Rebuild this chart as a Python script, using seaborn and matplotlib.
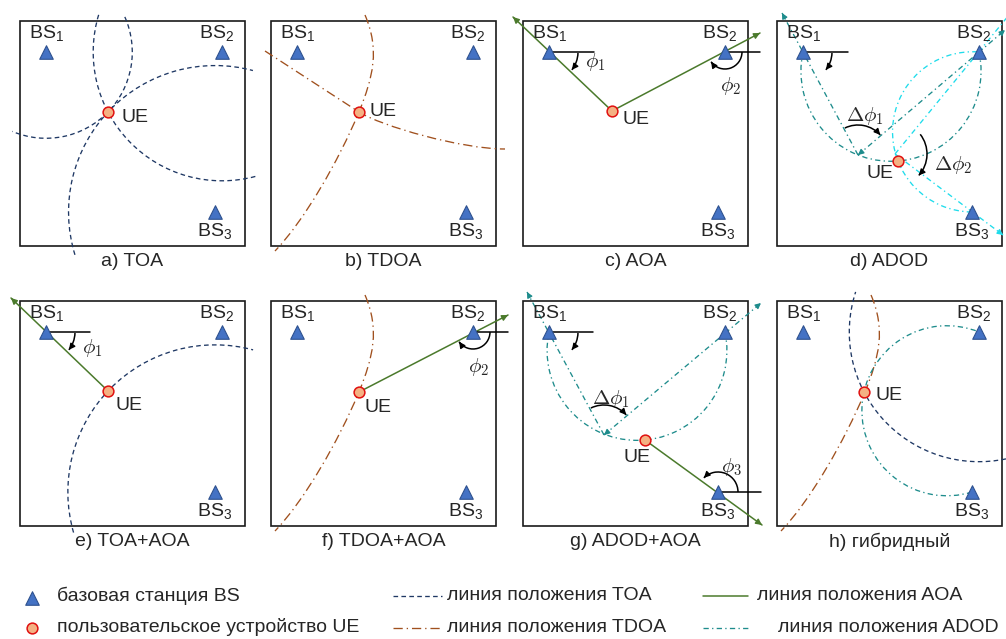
import matplotlib.pyplot as plt
import numpy as np
import pandas as pd
import seaborn as sns
from matplotlib.patches import Arc, PathPatch, Rectangle
from matplotlib.path import Path

# ---- layout of the 8 panels (pixel coords, y pointing down) ----
PANEL_LEFT = [20, 271, 523, 777]
PANEL_TOP = [21, 301]
BOX = 225
PANEL_NAMES = ["a) TOA", "b) TDOA", "c) AOA", "d) ADOD",
               "e) TOA+AOA", "f) TDOA+AOA", "g) ADOD+AOA", "h) гибридный"]

# base stations (relative to a panel box)
BS_X = [26, 202, 195]
BS_Y = [31, 31, 191]
BS_LABEL_X = [27, 197, 195]
BS_LABEL_Y = [12, 12, 210]

# user equipment per panel
UE_X = [88, 88, 89, 121, 88, 88, 122, 87]
UE_Y = [91, 91, 90, 140, 90, 91, 139, 91]
UE_LABEL_X = [102, 99, 100, 90, 96, 94, 101, 99]
UE_LABEL_Y = [96, 90, 99, 153, 105, 107, 156, 95]

# TOA circles: panel, base station, start / end angle (deg)
TOA_PANEL = [0, 0, 0, 4, 7]
TOA_BS = [0, 1, 2, 2, 1]
TOA_T0 = [-24, 75, 163, 164, 78]
TOA_T1 = [113, 197, 285, 285, 198]

# TDOA curves (bezier control points)
TDOA1_X = [-6, 88, 110, 190, 234]
TDOA1_Y = [30, 91, 105, 128, 128]
TDOA2_X = [94, 109, 102, 88, 67, 33, 4]
TDOA2_Y = [-6, 29, 56, 91, 141, 200, 230]
TDOA1_PANELS = [1]
TDOA2_PANELS = [1, 5, 7]

# AOA bearing lines from UE: panel, end point
AOA_PANEL = [2, 2, 4, 5, 6]
AOA_END_X = [-10, 237, -9, 237, 239]
AOA_END_Y = [-4, 12, -3, 14, 224]

# horizontal reference lines at base stations
REF_PANEL = [2, 2, 3, 4, 5, 6, 6]
REF_BS = [0, 1, 0, 0, 1, 0, 2]
REF_END = [71, 237, 71, 70, 237, 70, 238]

# ADOD circles through two base stations and UE
ADOD_PANEL = [3, 3, 6, 7]
ADOD_BS_A = [0, 1, 0, 1]
ADOD_BS_B = [1, 2, 1, 2]
ADOD_KIND = ["teal", "cyan", "teal", "teal"]

# ADOD angle-difference lines: panel, start, end, colour
V_PANEL = [3, 3, 3, 3, 6, 6]
V_X0 = [81, 81, 118, 118, 81, 81]
V_Y0 = [134, 134, 133, 133, 134, 134]
V_X1 = [5, 228, 232, 226, 4, 238]
V_Y1 = [-8, 9, -6, 214, -9, 2]
V_KIND = ["teal", "teal", "cyan", "cyan", "teal", "teal"]

# curved angle arrows: panel, centre, radius, start / end angle
ANG_PANEL = [2, 2, 3, 4, 5, 6, 6, 3, 6, 3]
ANG_CX = [26, 202, 26, 26, 202, 26, 195, 81, 81, 118]
ANG_CY = [31, 31, 31, 31, 31, 31, 191, 134, 134, 133]
ANG_R = [29, 17, 29, 29, 17, 29, 20, 30, 30, 32]
ANG_T0 = [2, 0, 2, 2, 0, 2, 0, 244, 244, -38]
ANG_T1 = [38, 145, 38, 38, 145, 38, -135, 318, 318, 42]

# angle labels
PHI_PANEL = [2, 2, 4, 5, 6, 3, 6, 3]
PHI_X = [72, 208, 72, 208, 209, 88, 88, 176]
PHI_Y = [41, 65, 47, 66, 166, 95, 98, 144]
PHI_TEXT = [r"$\phi_1$", r"$\phi_2$", r"$\phi_1$", r"$\phi_2$", r"$\phi_3$",
            r"$\Delta\phi_1$", r"$\Delta\phi_1$", r"$\Delta\phi_2$"]

COLORS = {
    "toa": "#1F3864",
    "tdoa": "#A0501E",
    "aoa": "#4B7A2C",
    "teal": "#1E8C8C",
    "cyan": "#1FDCEB",
    "bs": "#4472C4",
    "bs_edge": "#2F528F",
    "ue": "#F4B183",
    "ue_edge": "#E01010",
}
LS_TOA = (0, (3.5, 2.5))
LS_TDOA = (0, (7, 3, 1, 3))
LS_ADOD = (0, (4, 2.5, 1, 2.5))
LW = 0.95

sns.set_theme(style="white")
plt.rcParams["font.family"] = ["Liberation Sans", "DejaVu Sans"]
plt.rcParams["mathtext.fontset"] = "cm"

fig = plt.figure(figsize=(10.06, 6.39), dpi=100)
ax = fig.add_axes([0, 0, 1, 1])


def origin(panel):
    row, col = divmod(panel, 4)
    return PANEL_LEFT[col], PANEL_TOP[row]


def to_abs(panel, x, y):
    ox, oy = origin(panel)
    return ox + np.asarray(x, float), oy + np.asarray(y, float)


def head(x0, y0, x1, y1, color, size=8):
    d = np.hypot(x1 - x0, y1 - y0)
    ux, uy = (x1 - x0) / d, (y1 - y0) / d
    ax.annotate("", xy=(x1, y1), xytext=(x1 - ux * 5, y1 - uy * 5),
                arrowprops=dict(arrowstyle="-|>", color=color, lw=LW,
                                mutation_scale=size, shrinkA=0, shrinkB=0))


def circle_center(p1, p2, p3):
    (ax_, ay), (bx, by), (cx, cy) = p1, p2, p3
    d = 2 * (ax_ * (by - cy) + bx * (cy - ay) + cx * (ay - by))
    ux = ((ax_**2 + ay**2) * (by - cy) + (bx**2 + by**2) * (cy - ay)
          + (cx**2 + cy**2) * (ay - by)) / d
    uy = ((ax_**2 + ay**2) * (cx - bx) + (bx**2 + by**2) * (ax_ - cx)
          + (cx**2 + cy**2) * (bx - ax_)) / d
    return ux, uy


def angle_of(c, p):
    return np.degrees(np.arctan2(p[1] - c[1], p[0] - c[0]))


# panel frames and captions
for p, name in enumerate(PANEL_NAMES):
    ox, oy = origin(p)
    ax.add_patch(Rectangle((ox, oy), BOX, BOX, fill=False, ec="#1a1a1a", lw=1.2, zorder=1))
    ax.text(ox + BOX / 2, oy + BOX + 16, name, ha="center", va="center", fontsize=14)

# TOA circles
for p, b, t0, t1 in zip(TOA_PANEL, TOA_BS, TOA_T0, TOA_T1):
    cx, cy = to_abs(p, BS_X[b], BS_Y[b])
    ux, uy = to_abs(p, UE_X[p], UE_Y[p])
    r = np.hypot(ux - cx, uy - cy)
    ax.add_patch(Arc((cx, cy), 2 * r, 2 * r, theta1=t0, theta2=t1,
                     color=COLORS["toa"], lw=LW, ls=LS_TOA, zorder=2))

# TDOA hyperbola-like curves
for p in TDOA1_PANELS:
    xs, ys = to_abs(p, TDOA1_X, TDOA1_Y)
    codes = [Path.MOVETO, Path.LINETO, Path.CURVE4, Path.CURVE4, Path.CURVE4]
    ax.add_patch(PathPatch(Path(np.column_stack([xs, ys]), codes), fill=False,
                           ec=COLORS["tdoa"], lw=LW, ls=LS_TDOA, zorder=2))
for p in TDOA2_PANELS:
    xs, ys = to_abs(p, TDOA2_X, TDOA2_Y)
    codes = [Path.MOVETO] + [Path.CURVE4] * 6
    ax.add_patch(PathPatch(Path(np.column_stack([xs, ys]), codes), fill=False,
                           ec=COLORS["tdoa"], lw=LW, ls=LS_TDOA, zorder=2))

# ADOD circles
for p, a, b, kind in zip(ADOD_PANEL, ADOD_BS_A, ADOD_BS_B, ADOD_KIND):
    pa = to_abs(p, BS_X[a], BS_Y[a])
    pb = to_abs(p, BS_X[b], BS_Y[b])
    pm = to_abs(p, UE_X[p], UE_Y[p])
    c = circle_center(pa, pm, pb)
    r = np.hypot(pm[0] - c[0], pm[1] - c[1])
    a1, a2, a3 = angle_of(c, pa), angle_of(c, pm), angle_of(c, pb)
    if (a2 - a1) % 360 < (a3 - a1) % 360:
        t0, t1 = a1, a1 + (a3 - a1) % 360
    else:
        t0, t1 = a3, a3 + (a1 - a3) % 360
    ax.add_patch(Arc(c, 2 * r, 2 * r, theta1=t0, theta2=t1,
                     color=COLORS[kind], lw=LW, ls=LS_ADOD, zorder=2))

# ADOD angle lines
for p, x0, y0, x1, y1, kind in zip(V_PANEL, V_X0, V_Y0, V_X1, V_Y1, V_KIND):
    xs, ys = to_abs(p, [x0, x1], [y0, y1])
    ax.plot(xs, ys, color=COLORS[kind], lw=LW, ls=LS_ADOD, zorder=2)
    head(xs[0], ys[0], xs[1], ys[1], COLORS[kind])
for p in [3, 6]:
    vx, vy = to_abs(p, V_X0[1], V_Y0[1])
    bx, by = to_abs(p, BS_X[1], BS_Y[1])
    d = np.hypot(bx - vx, by - vy)
    head(vx + (bx - vx) / d * 8, vy + (by - vy) / d * 8, vx, vy, COLORS["teal"])

# AOA bearing lines
for p, ex, ey in zip(AOA_PANEL, AOA_END_X, AOA_END_Y):
    ux, uy = to_abs(p, UE_X[p], UE_Y[p])
    ex, ey = to_abs(p, ex, ey)
    ax.plot([ux, ex], [uy, ey], color=COLORS["aoa"], lw=1.1, zorder=2)
    head(ux, uy, ex, ey, COLORS["aoa"], size=9)

# horizontal references
for p, b, xe in zip(REF_PANEL, REF_BS, REF_END):
    xs, ys = to_abs(p, [BS_X[b], xe], [BS_Y[b], BS_Y[b]])
    ax.plot(xs, ys, color="black", lw=1.1, zorder=3)

# curved angle arrows
for p, cx, cy, r, t0, t1 in zip(ANG_PANEL, ANG_CX, ANG_CY, ANG_R, ANG_T0, ANG_T1):
    cx, cy = to_abs(p, cx, cy)
    ax.add_patch(Arc((cx, cy), 2 * r, 2 * r, theta1=min(t0, t1), theta2=max(t0, t1),
                     color="black", lw=1.1, zorder=3))
    t = np.radians(t1)
    sgn = 1 if t1 > t0 else -1
    ex, ey = cx + r * np.cos(t), cy + r * np.sin(t)
    tx, ty = -np.sin(t) * sgn, np.cos(t) * sgn
    head(ex - tx * 4, ey - ty * 4, ex, ey, "black", size=9)

for p, x, y, s in zip(PHI_PANEL, PHI_X, PHI_Y, PHI_TEXT):
    x, y = to_abs(p, x, y)
    ax.text(x, y, s, ha="center", va="center", fontsize=15, zorder=6)

# base stations and UE markers
bs_rows, ue_rows = [], []
for p in range(8):
    for i in range(3):
        x, y = to_abs(p, BS_X[i], BS_Y[i])
        bs_rows.append({"x": x, "y": y})
    x, y = to_abs(p, UE_X[p], UE_Y[p])
    ue_rows.append({"x": x, "y": y})
bs_df = pd.DataFrame(bs_rows)
ue_df = pd.DataFrame(ue_rows)

sns.scatterplot(data=bs_df, x="x", y="y", marker="^", s=95, color=COLORS["bs"],
                edgecolor=COLORS["bs_edge"], linewidth=0.8, ax=ax, zorder=5, legend=False)
sns.scatterplot(data=ue_df, x="x", y="y", marker="o", s=60, color=COLORS["ue"],
                edgecolor=COLORS["ue_edge"], linewidth=1.1, ax=ax, zorder=5, legend=False)

for p in range(8):
    for i in range(3):
        x, y = to_abs(p, BS_LABEL_X[i], BS_LABEL_Y[i])
        ax.text(x, y, r"$\mathregular{BS_%d}$" % (i + 1), ha="center", va="center",
                fontsize=14, zorder=6)
    x, y = to_abs(p, UE_LABEL_X[p], UE_LABEL_Y[p])
    ax.text(x, y, "UE", ha="left", va="center", fontsize=14, zorder=6)

# legend (drawn by hand, as in the original figure)
ax.scatter([32], [598], marker="^", s=95, color=COLORS["bs"], edgecolor=COLORS["bs_edge"], lw=0.8)
ax.scatter([32], [628], marker="o", s=60, color=COLORS["ue"], edgecolor=COLORS["ue_edge"], lw=1.1)
ax.text(57, 596, "базовая станция BS", va="center", fontsize=14)
ax.text(57, 627, "пользовательское устройство UE", va="center", fontsize=14)
ax.plot([393, 442], [596, 596], color=COLORS["toa"], lw=LW, ls=LS_TOA)
ax.text(447, 596, "линия положения TOA", va="center", fontsize=14)
ax.plot([393, 442], [628, 628], color=COLORS["tdoa"], lw=LW, ls=LS_TDOA)
ax.text(447, 627, "линия положения TDOA", va="center", fontsize=14)
ax.plot([703, 748], [596, 596], color=COLORS["aoa"], lw=1.1)
ax.text(757, 596, "линия положения AOA", va="center", fontsize=14)
ax.plot([703, 748], [628, 628], color=COLORS["teal"], lw=LW, ls=LS_ADOD)
ax.text(778, 627, "линия положения ADOD", va="center", fontsize=14)

ax.set_xlim(0, 1006)
ax.set_ylim(639, 0)
ax.set_aspect("equal")
ax.axis("off")

fig.savefig("out.png", dpi=100)
plt.close(fig)
